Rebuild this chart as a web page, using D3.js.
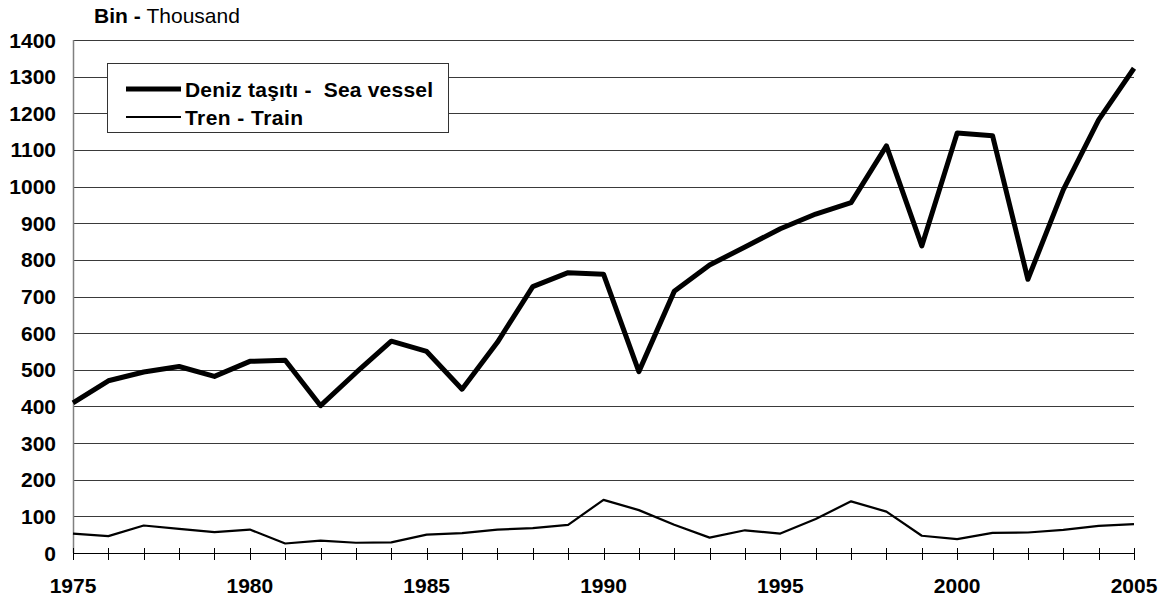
<!DOCTYPE html>
<html>
<head>
<meta charset="utf-8">
<script src="https://cdn.jsdelivr.net/npm/d3@7"></script>
<style>
  html, body { margin: 0; padding: 0; background: #fff; }
  svg { display: block; font-family: "Liberation Sans", Arial, sans-serif; }
</style>
</head>
<body>
<svg id="chart" width="1168" height="602"></svg>
<script>
const years = d3.range(1975, 2006);
const seaVessel = [410, 470, 494, 509, 482, 523, 526, 402, 492, 578, 550, 447, 575, 727, 765, 761, 495, 714, 786, 835, 885, 925, 956, 1111, 838, 1146, 1139, 747, 991, 1182, 1323];
const train = [53, 46, 75, 66, 57, 64, 26, 34, 28, 29, 50, 54, 64, 68, 77, 145, 117, 77, 42, 62, 53, 93, 141, 113, 47, 38, 55, 56, 63, 74, 79];
const yTicks = [0, 100, 200, 300, 400, 500, 600, 700, 800, 900, 1000, 1100, 1200, 1300, 1400];
const xTickLabels = [1975, 1980, 1985, 1990, 1995, 2000, 2005];
const seriesNames = ["Deniz taşıtı -  Sea vessel", "Tren - Train"];

const svg = d3.select("#chart");
const x = d3.scaleLinear().domain([1975, 2005]).range([73, 1134]);
const y = d3.scaleLinear().domain([0, 1400]).range([553, 40]);
const FS = 21;

// gridlines
svg.append("g").selectAll("line").data(yTicks.filter(d => d > 0)).join("line")
  .attr("x1", x(1975)).attr("x2", x(2005))
  .attr("y1", d => Math.round(y(d)) + 0.5).attr("y2", d => Math.round(y(d)) + 0.5)
  .attr("stroke", "#3a3a3a").attr("stroke-width", 1);

// y axis line
svg.append("line")
  .attr("x1", x(1975) + 0.5).attr("x2", x(1975) + 0.5)
  .attr("y1", y(1400)).attr("y2", y(0))
  .attr("stroke", "#808080").attr("stroke-width", 1.5);

// y tick labels
svg.append("g").selectAll("text").data(yTicks).join("text")
  .attr("x", 56).attr("y", d => y(d) + 7.5)
  .attr("text-anchor", "end")
  .attr("font-size", FS).attr("font-weight", "bold")
  .text(d => d);

// x axis line
svg.append("line")
  .attr("x1", x(1975)).attr("x2", x(2005))
  .attr("y1", Math.round(y(0)) + 0.5).attr("y2", Math.round(y(0)) + 0.5)
  .attr("stroke", "#000").attr("stroke-width", 1.2);

// x ticks
svg.append("g").selectAll("line").data(years).join("line")
  .attr("x1", d => Math.round(x(d)) + 0.5).attr("x2", d => Math.round(x(d)) + 0.5)
  .attr("y1", 548).attr("y2", 560)
  .attr("stroke", "#000").attr("stroke-width", 1);

// x labels
svg.append("g").selectAll("text").data(xTickLabels).join("text")
  .attr("x", d => x(d)).attr("y", 593)
  .attr("text-anchor", "middle")
  .attr("font-size", FS).attr("font-weight", "bold")
  .text(d => d);

// unit label
const unit = svg.append("text").attr("x", 94).attr("y", 23).attr("font-size", FS);
unit.append("tspan").attr("font-weight", "bold").text("Bin - ");
unit.append("tspan").text("Thousand");

// lines
const line = d3.line().x((d, i) => x(years[i])).y(d => y(d)).curve(d3.curveLinear);
svg.append("path").datum(train).attr("d", line)
  .attr("fill", "none").attr("stroke", "#000").attr("stroke-width", 2.2).attr("stroke-linejoin", "round");
svg.append("path").datum(seaVessel).attr("d", line)
  .attr("fill", "none").attr("stroke", "#000").attr("stroke-width", 5).attr("stroke-linejoin", "round");

// legend
const lg = svg.append("g");
lg.append("rect").attr("x", 107.5).attr("y", 63.5).attr("width", 341).attr("height", 69)
  .attr("fill", "#fff").attr("stroke", "#333").attr("stroke-width", 1);
const legendItems = [
  { name: seriesNames[0], w: 5, y: 89, len: 248 },
  { name: seriesNames[1], w: 2.2, y: 117, len: 118 }
];
legendItems.forEach(it => {
  lg.append("line").attr("x1", 126).attr("x2", 181).attr("y1", it.y).attr("y2", it.y)
    .attr("stroke", "#000").attr("stroke-width", it.w);
  lg.append("text").attr("x", 185).attr("y", it.y + 7.5)
    .attr("font-size", FS).attr("font-weight", "bold")
    .attr("xml:space", "preserve").style("white-space", "pre")
    .attr("textLength", it.len).attr("lengthAdjust", "spacing")
    .text(it.name);
});
</script>
</body>
</html>
